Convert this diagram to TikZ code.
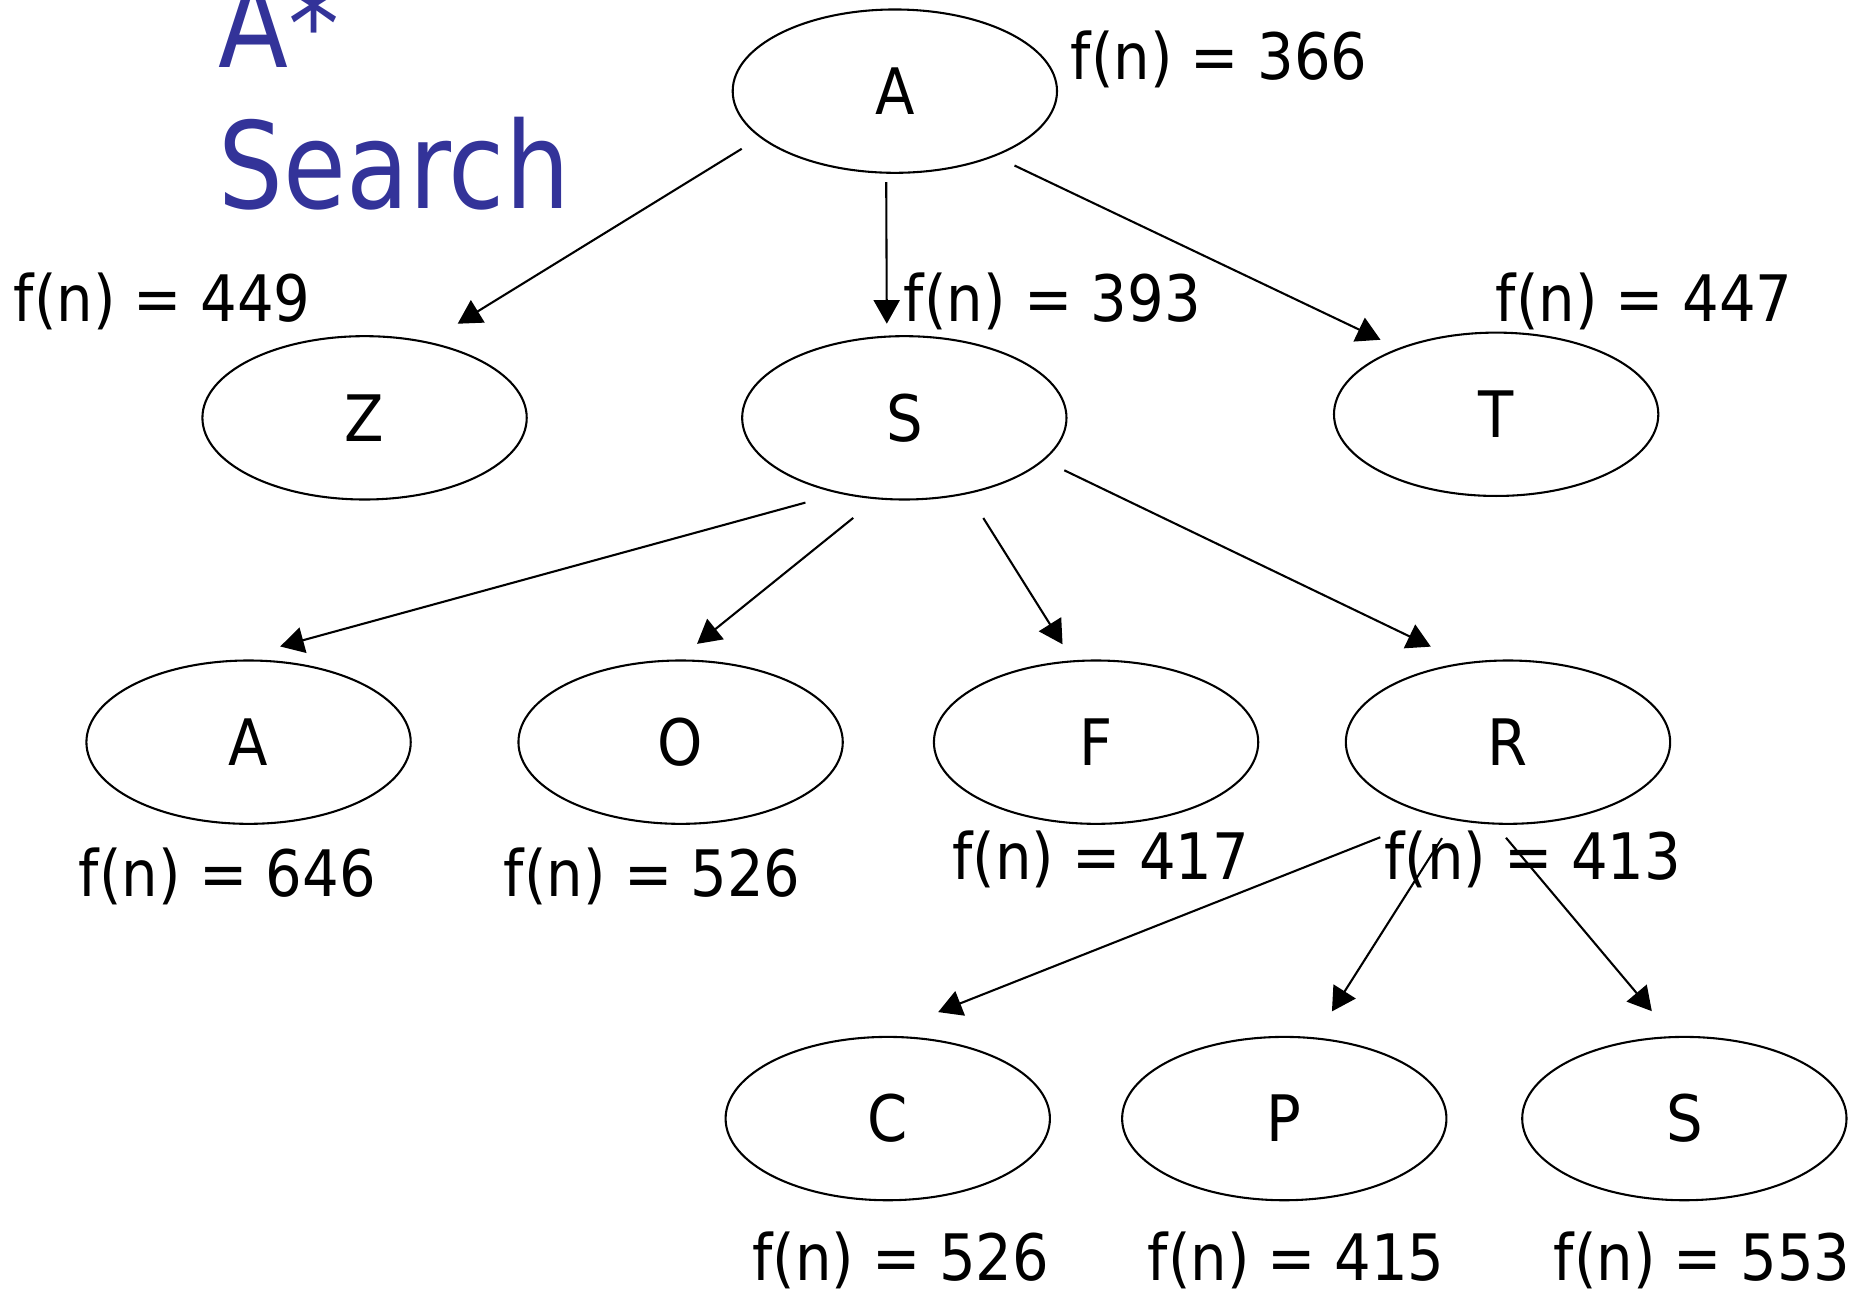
\documentclass[tikz,border=0pt]{standalone}
\usepackage{fontspec}
\setmainfont{DejaVu Sans}[FakeStretch=0.9]
\newfontfamily\titlefont{DejaVu Sans}[FakeStretch=0.85]
\usetikzlibrary{arrows.meta,shapes.geometric}
\definecolor{titleblue}{RGB}{51,51,153}

\begin{document}
\begin{tikzpicture}[x=0.1mm,y=-0.1mm,
  state/.style={draw,ellipse,line width=0.5pt,minimum width=27.4mm,minimum height=13.8mm,inner sep=0pt,font=\fontsize{15.4}{18}\selectfont},
  fval/.style={anchor=base west,inner sep=0pt,font=\fontsize{15.4}{18}\selectfont},
  ar/.style={-{Triangle[length=2mm,width=2.2mm]},line width=0.5pt}]
\useasboundingbox (0,0) rectangle (1568,1090);
\clip (0,0) rectangle (1568,1090);
% title
\node[anchor=south west,inner sep=0pt,align=left,text=titleblue,font=\titlefont\fontsize{28.9}{33.8}\selectfont] (title) at (184,178) {A*\\Search};
% root
\node[state] (a) at (756,77) {A};
% level 1
\node[state] (z) at (308,353) {Z};
\node[state] (s) at (764,353) {S};
\node[state] (t) at (1264,350) {T};
% level 2
\node[state] (a2) at (210,627) {A};
\node[state] (o) at (575,627) {O};
\node[state] (f) at (926,627) {F};
\node[state] (r) at (1274,627) {R};
% level 3
\node[state] (c) at (750,945) {C};
\node[state] (p) at (1085,945) {P};
\node[state] (s2) at (1423,945) {S};
% f-values
\node[fval] (fa) at (904,67) {f(n) = 366};
\node[fval] (fz) at (11,272) {f(n) = 449};
\node[fval] (fs) at (763,272) {f(n) = 393};
\node[fval] (ft) at (1263,272) {f(n) = 447};
\node[fval] (fa2) at (66,757) {f(n) = 646};
\node[fval] (fo) at (425,757) {f(n) = 526};
\node[fval] (ff) at (804,743) {f(n) = 417};
\node[fval] (fr) at (1169,743) {f(n) = 413};
\node[fval] (fc) at (635,1082) {f(n) = 526};
\node[fval] (fp) at (969,1082) {f(n) = 415};
\node[fval] (fs2) at (1312,1082) {f(n) = 553};
% expansions
\foreach \u/\su/\v/\sv/\gu/\gv in {a/199.4/z/50.8/1.8/2.9, a/264.2/s/102.3/0.7/1.0, a/327.4/t/146.6/1.8/1.65,
    s/229/a2/102.7/2.9/4.3, s/251.1/o/92.6/2.5/2.1, s/310.6/f/106.8/2.4/1.6, s/343/r/119.6/1.9/3.1,
    r/225.3/c/97.2/4.9/5.5, r/235.1/p/69.1/1.8/2.6, r/261.6/s2/98.7/1.45/2.75}
  \draw[ar,shorten <=\gu mm,shorten >=\gv mm] (\u.\su) -- (\v.\sv);
\end{tikzpicture}
\end{document}
